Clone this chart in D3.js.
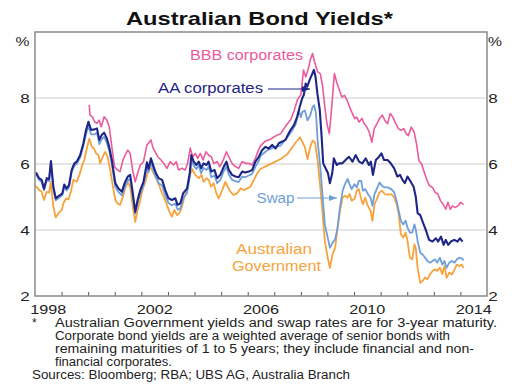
<!DOCTYPE html>
<html>
<head>
<meta charset="utf-8">
<script src="https://cdn.jsdelivr.net/npm/d3@7"></script>
<style>
  html, body { margin: 0; padding: 0; background: #fff; }
  svg { display: block; font-family: "Liberation Sans", Arial, sans-serif; }
</style>
</head>
<body>
<div id="chart"></div>
<script>
// values, [decimal year, per cent]
const aaCorporates = [
  [1998.04,5.74],[1998.15,5.57],[1998.25,5.52],[1998.34,5.25],[1998.44,5.57],[1998.53,5.54],[1998.60,6.09],
  [1998.69,5.31],[1998.78,4.96],[1998.94,5.06],[1999.03,5.11],[1999.10,5.38],[1999.19,5.26],[1999.28,5.36],
  [1999.38,5.82],[1999.48,6.02],[1999.57,6.07],[1999.70,6.27],[1999.82,6.63],[1999.92,7.03],[2000.01,7.28],
  [2000.11,7.03],[2000.24,7.05],[2000.33,7.08],[2000.42,6.73],[2000.51,6.88],[2000.60,6.95],[2000.70,6.78],
  [2000.79,6.52],[2000.89,6.12],[2001.02,5.42],[2001.14,5.26],[2001.27,5.16],[2001.37,5.42],[2001.49,5.62],
  [2001.58,5.67],[2001.67,5.16],[2001.77,4.55],[2001.86,4.91],[2001.96,5.21],[2002.08,5.46],[2002.21,6.05],
  [2002.27,5.85],[2002.36,6.17],[2002.46,5.92],[2002.55,5.72],[2002.65,5.57],[2002.78,5.52],[2002.90,5.21],
  [2003.02,4.96],[2003.15,4.91],[2003.28,4.96],[2003.36,4.76],[2003.47,4.81],[2003.57,5.11],[2003.72,5.26],
  [2003.82,5.72],[2003.88,6.27],[2003.97,6.07],[2004.07,5.97],[2004.16,6.07],[2004.25,5.87],[2004.34,6.02],
  [2004.45,5.97],[2004.53,6.07],[2004.63,5.77],[2004.75,5.82],[2004.85,5.57],[2004.97,5.67],[2005.10,5.92],
  [2005.20,6.07],[2005.29,5.82],[2005.41,5.67],[2005.54,5.62],[2005.66,5.60],[2005.79,5.77],[2005.91,5.74],
  [2006.04,5.77],[2006.17,5.82],[2006.29,6.07],[2006.42,6.22],[2006.54,6.42],[2006.67,6.52],[2006.79,6.47],
  [2006.92,6.58],[2007.05,6.47],[2007.17,6.63],[2007.30,6.68],[2007.42,6.73],[2007.51,6.88],[2007.61,7.03],
  [2007.74,7.18],[2007.86,7.43],[2007.96,7.74],[2008.05,7.99],[2008.11,8.09],[2008.18,8.44],[2008.24,8.34],
  [2008.33,8.55],[2008.41,8.70],[2008.49,8.85],[2008.55,8.65],[2008.62,8.14],[2008.71,7.64],[2008.78,6.83],
  [2008.84,6.02],[2008.93,5.87],[2009.02,5.72],[2009.09,5.42],[2009.18,5.72],[2009.24,6.17],[2009.35,5.97],
  [2009.43,6.02],[2009.56,6.02],[2009.68,6.12],[2009.81,6.22],[2009.94,6.07],[2010.06,6.27],[2010.19,6.07],
  [2010.31,6.02],[2010.44,6.17],[2010.56,5.97],[2010.63,6.07],[2010.71,5.67],[2010.82,6.12],[2010.94,6.22],
  [2011.03,6.32],[2011.13,6.12],[2011.26,6.12],[2011.38,6.02],[2011.51,5.87],[2011.63,5.62],[2011.73,5.67],
  [2011.82,5.52],[2011.91,5.42],[2012.01,5.62],[2012.13,5.46],[2012.24,5.31],[2012.32,5.01],[2012.39,4.51],
  [2012.49,4.45],[2012.58,4.25],[2012.70,4.00],[2012.82,3.70],[2012.95,3.65],[2013.08,3.75],[2013.16,3.65],
  [2013.27,3.80],[2013.37,3.55],[2013.45,3.70],[2013.54,3.55],[2013.64,3.65],[2013.77,3.70],[2013.89,3.65],
  [2013.98,3.75],[2014.08,3.65]
];

const bbbCorporates = [
  [2000.04,7.79],[2000.07,7.48],[2000.16,7.43],[2000.24,7.28],[2000.33,7.23],[2000.41,7.33],[2000.49,7.13],
  [2000.60,7.43],[2000.70,7.33],[2000.79,7.13],[2000.89,6.52],[2000.99,5.92],[2001.10,5.82],[2001.20,5.77],
  [2001.31,6.12],[2001.39,6.27],[2001.49,6.42],[2001.58,6.32],[2001.67,5.82],[2001.77,5.46],[2001.86,5.72],
  [2001.96,5.97],[2002.08,6.07],[2002.21,6.58],[2002.27,6.63],[2002.36,6.73],[2002.44,6.48],[2002.52,6.37],
  [2002.62,6.22],[2002.74,6.12],[2002.84,6.02],[2002.96,5.87],[2003.09,6.07],[2003.21,5.97],[2003.31,6.07],
  [2003.40,5.82],[2003.53,5.87],[2003.65,5.82],[2003.74,6.02],[2003.84,6.48],[2003.93,6.22],[2004.03,6.32],
  [2004.12,6.17],[2004.22,6.32],[2004.32,6.12],[2004.43,6.37],[2004.53,6.27],[2004.63,6.22],[2004.72,6.02],
  [2004.85,6.07],[2004.95,5.92],[2005.08,6.12],[2005.20,6.37],[2005.29,6.22],[2005.41,6.02],[2005.54,5.92],
  [2005.66,5.87],[2005.79,6.07],[2005.92,6.02],[2006.04,6.02],[2006.17,5.97],[2006.29,6.17],[2006.42,6.45],
  [2006.48,6.55],[2006.67,6.70],[2006.86,6.75],[2007.05,6.85],[2007.24,6.92],[2007.43,7.15],[2007.62,7.35],
  [2007.74,7.60],[2007.87,7.95],[2008.00,8.10],[2008.10,8.85],[2008.18,8.64],[2008.28,8.89],[2008.35,9.15],
  [2008.44,9.35],[2008.53,9.05],[2008.63,8.79],[2008.73,8.74],[2008.82,8.34],[2008.90,7.73],[2008.98,7.22],
  [2009.07,6.92],[2009.16,7.73],[2009.26,8.74],[2009.36,8.44],[2009.45,8.24],[2009.54,8.03],[2009.64,8.08],
  [2009.74,7.93],[2009.83,7.73],[2009.91,7.58],[2010.02,7.38],[2010.10,7.42],[2010.19,7.27],[2010.30,7.38],
  [2010.38,7.22],[2010.48,7.12],[2010.57,6.97],[2010.67,6.66],[2010.76,7.07],[2010.86,7.22],[2010.96,7.38],
  [2011.06,7.48],[2011.16,7.32],[2011.26,7.22],[2011.36,7.53],[2011.46,7.42],[2011.57,7.22],[2011.67,7.07],
  [2011.77,7.02],[2011.87,7.07],[2011.96,6.92],[2012.04,6.86],[2012.15,7.12],[2012.26,6.97],[2012.35,6.61],
  [2012.44,6.10],[2012.54,6.00],[2012.64,5.75],[2012.75,5.49],[2012.84,5.34],[2012.95,5.29],[2013.05,5.14],
  [2013.15,5.09],[2013.25,4.89],[2013.35,4.78],[2013.45,4.63],[2013.53,4.84],[2013.62,4.63],[2013.70,4.73],
  [2013.80,4.68],[2013.91,4.73],[2014.01,4.84],[2014.12,4.77]
];

const swapRates = [
  [1998.04,5.70],[1998.15,5.52],[1998.25,5.45],[1998.34,5.20],[1998.44,5.50],[1998.53,5.48],[1998.60,6.00],
  [1998.69,5.25],[1998.78,4.90],[1998.94,5.00],[1999.03,5.05],[1999.10,5.30],[1999.19,5.20],[1999.28,5.30],
  [1999.38,5.75],[1999.48,5.95],[1999.57,6.00],[1999.70,6.20],[1999.82,6.55],[1999.92,6.90],[2000.01,7.15],
  [2000.11,6.90],[2000.24,6.90],[2000.33,6.95],[2000.42,6.60],[2000.51,6.75],[2000.60,6.82],[2000.70,6.65],
  [2000.79,6.40],[2000.89,6.00],[2001.02,5.30],[2001.14,5.15],[2001.27,5.05],[2001.37,5.30],[2001.49,5.50],
  [2001.58,5.55],[2001.67,5.05],[2001.77,4.50],[2001.86,4.82],[2001.96,5.10],[2002.08,5.35],[2002.21,5.90],
  [2002.27,5.75],[2002.36,6.05],[2002.46,5.80],[2002.55,5.60],[2002.65,5.42],[2002.78,5.35],[2002.90,5.05],
  [2003.02,4.82],[2003.15,4.75],[2003.28,4.80],[2003.36,4.62],[2003.47,4.65],[2003.57,4.95],[2003.72,5.12],
  [2003.82,5.60],[2003.88,6.12],[2003.97,5.95],[2004.07,5.85],[2004.16,5.95],[2004.25,5.72],[2004.34,5.88],
  [2004.45,5.82],[2004.53,5.92],[2004.63,5.60],[2004.75,5.65],[2004.85,5.42],[2004.97,5.52],[2005.10,5.78],
  [2005.20,5.92],[2005.29,5.68],[2005.41,5.52],[2005.54,5.48],[2005.66,5.45],[2005.79,5.62],[2005.91,5.60],
  [2006.04,5.65],[2006.17,5.70],[2006.29,5.92],[2006.42,6.10],[2006.48,6.25],[2006.73,6.41],[2006.99,6.51],
  [2007.24,6.56],[2007.49,6.81],[2007.68,7.02],[2007.81,7.22],[2007.93,7.62],[2008.00,7.42],[2008.06,7.58],
  [2008.15,7.62],[2008.25,7.32],[2008.35,7.47],[2008.44,7.73],[2008.50,7.78],[2008.57,7.52],[2008.63,6.71],
  [2008.73,5.90],[2008.82,4.98],[2008.90,4.17],[2009.01,3.77],[2009.09,3.46],[2009.19,3.61],[2009.29,3.72],
  [2009.38,4.07],[2009.47,4.68],[2009.57,5.19],[2009.66,5.39],[2009.76,5.55],[2009.83,5.39],[2009.91,5.24],
  [2010.02,5.39],[2010.10,5.29],[2010.18,5.49],[2010.27,5.49],[2010.33,5.19],[2010.42,5.24],[2010.52,5.09],
  [2010.62,4.98],[2010.69,4.73],[2010.77,5.09],[2010.88,5.29],[2010.96,5.44],[2011.05,5.34],[2011.15,5.29],
  [2011.28,5.29],[2011.40,5.24],[2011.51,5.14],[2011.60,4.89],[2011.68,4.58],[2011.76,4.28],[2011.85,4.17],
  [2011.94,4.28],[2012.01,4.07],[2012.10,3.92],[2012.19,3.92],[2012.27,4.17],[2012.32,4.02],[2012.39,3.67],
  [2012.49,3.31],[2012.58,3.26],[2012.67,3.16],[2012.76,3.06],[2012.86,3.01],[2012.95,3.06],[2013.05,3.11],
  [2013.13,3.01],[2013.23,3.16],[2013.32,2.95],[2013.40,3.06],[2013.48,2.85],[2013.58,3.01],[2013.68,3.06],
  [2013.78,3.01],[2013.86,3.11],[2013.96,3.16],[2014.05,3.14],[2014.12,3.08]
];

const govtYields = [
  [1998.04,5.33],[1998.16,5.21],[1998.25,5.16],[1998.34,4.91],[1998.44,5.16],[1998.53,5.13],[1998.59,5.46],
  [1998.69,4.71],[1998.78,4.38],[1998.88,4.51],[1999.01,4.61],[1999.07,4.81],[1999.17,4.96],[1999.26,4.93],
  [1999.35,5.16],[1999.44,5.52],[1999.57,5.46],[1999.67,5.67],[1999.76,5.92],[1999.85,6.12],[1999.95,6.47],
  [2000.04,6.77],[2000.14,6.52],[2000.22,6.47],[2000.30,6.32],[2000.39,6.27],[2000.45,6.02],[2000.55,6.22],
  [2000.64,6.37],[2000.73,6.22],[2000.83,5.82],[2000.93,5.31],[2001.02,4.91],[2001.10,4.81],[2001.20,4.76],
  [2001.31,5.01],[2001.39,5.26],[2001.49,5.46],[2001.58,5.31],[2001.68,4.71],[2001.77,4.25],[2001.86,4.61],
  [2001.96,4.91],[2002.06,5.26],[2002.15,5.46],[2002.23,5.72],[2002.31,5.95],[2002.40,5.82],[2002.49,5.67],
  [2002.59,5.52],[2002.69,5.31],[2002.78,5.11],[2002.87,4.96],[2002.96,4.76],[2003.06,4.55],[2003.15,4.40],
  [2003.24,4.61],[2003.34,4.45],[2003.43,4.51],[2003.53,4.71],[2003.62,5.01],[2003.72,5.21],[2003.80,5.60],
  [2003.91,5.85],[2004.03,5.67],[2004.16,5.57],[2004.26,5.67],[2004.34,5.46],[2004.45,5.57],[2004.53,5.52],
  [2004.62,5.31],[2004.72,5.42],[2004.82,5.11],[2004.91,4.96],[2005.04,5.21],[2005.16,5.46],[2005.25,5.31],
  [2005.35,5.16],[2005.47,5.06],[2005.60,5.11],[2005.73,5.26],[2005.85,5.21],[2005.98,5.26],[2006.10,5.31],
  [2006.23,5.52],[2006.36,5.72],[2006.48,5.85],[2006.73,5.95],[2006.99,6.05],[2007.24,6.15],[2007.49,6.30],
  [2007.68,6.51],[2007.81,6.66],[2007.97,6.81],[2008.06,6.66],[2008.15,6.51],[2008.25,6.15],[2008.35,6.51],
  [2008.44,6.71],[2008.53,6.66],[2008.63,6.10],[2008.73,5.29],[2008.82,4.48],[2008.90,3.67],[2009.01,3.16],
  [2009.09,2.85],[2009.19,3.26],[2009.29,3.46],[2009.38,4.07],[2009.47,4.58],[2009.57,4.98],[2009.66,5.04],
  [2009.76,4.98],[2009.83,5.09],[2009.91,4.89],[2010.02,4.94],[2010.10,5.19],[2010.18,5.24],[2010.27,4.94],
  [2010.33,4.78],[2010.42,4.98],[2010.52,4.73],[2010.62,4.58],[2010.69,4.28],[2010.77,4.78],[2010.88,4.98],
  [2010.96,5.14],[2011.05,5.19],[2011.15,5.09],[2011.28,5.07],[2011.40,5.09],[2011.51,4.98],[2011.60,4.78],
  [2011.68,4.48],[2011.76,3.87],[2011.85,3.77],[2011.94,3.92],[2012.01,3.67],[2012.10,3.16],[2012.19,3.11],
  [2012.27,3.57],[2012.32,3.46],[2012.39,2.85],[2012.49,2.40],[2012.58,2.46],[2012.67,2.56],[2012.76,2.51],
  [2012.86,2.66],[2012.95,2.76],[2013.05,2.81],[2013.13,2.76],[2013.23,2.86],[2013.32,2.66],[2013.40,2.91],
  [2013.48,2.55],[2013.58,2.71],[2013.68,2.65],[2013.78,2.80],[2013.86,2.95],[2013.96,2.91],[2014.05,2.95],
  [2014.12,2.85]
];

const yTicks = [2, 4, 6, 8];
const yearLabels = [1998, 2002, 2006, 2010, 2014];
const footnotes = [
  "Australian Government yields and swap rates are for 3-year maturity.",
  "Corporate bond yields are a weighted average of senior bonds with",
  "remaining maturities of 1 to 5 years; they include financial and non-",
  "financial corporates."
];
const sources = "Sources: Bloomberg; RBA; UBS AG, Australia Branch";

const W = 528, H = 386;
const margin = {top: 32, right: 41, bottom: 90, left: 35};
const w = W - margin.left - margin.right;
const h = H - margin.top - margin.bottom;

const xScale = d3.scaleLinear().domain([1998, 2015]).range([0, w]);
const yScale = d3.scaleLinear().domain([2, 10]).range([h, 0]);

const svg = d3.select('#chart').append('svg')
  .attr('width', W).attr('height', H);

// text is drawn a bit wider than normal, like the reference
function label(sel, x, y, str, o) {
  const t = sel.append('text')
    .attr('x', x).attr('y', y)
    .attr('font-size', o.size)
    .attr('font-weight', o.weight || 'normal')
    .attr('fill', o.fill || '#222')
    .attr('text-anchor', o.anchor || 'start')
    .text(str);
  if (o.len) t.attr('textLength', o.len).attr('lengthAdjust', 'spacingAndGlyphs');
  if (o.dy) t.attr('dy', o.dy);
  return t;
}

label(svg, 259.5, 25, 'Australian Bond Yields*', {size: 19, weight: 'bold', anchor: 'middle', len: 267, fill: '#111'});

const g = svg.append('g')
  .attr('transform', 'translate(' + margin.left + ',' + margin.top + ')');

// grid
g.selectAll('.grid')
  .data(yTicks.filter(d => d > 2))
  .enter().append('line')
  .attr('x1', 0).attr('x2', w)
  .attr('y1', d => yScale(d)).attr('y2', d => yScale(d))
  .attr('stroke', '#cccccc').attr('stroke-width', 1);

// year ticks along the bottom
g.append('g')
  .attr('transform', 'translate(0,' + h + ')')
  .call(d3.axisBottom(xScale).tickValues(d3.range(1999, 2015)).tickSize(-4).tickFormat(''))
  .call(a => a.select('.domain').remove())
  .call(a => a.selectAll('line').attr('stroke', '#555'));

const line = d3.line().x(d => xScale(d[0])).y(d => yScale(d[1]));

const series = [
  {data: govtYields, color: '#f6a33d', width: 1.8},
  {data: swapRates, color: '#6f9fd8', width: 1.8},
  {data: bbbCorporates, color: '#ea5b9d', width: 1.6},
  {data: aaCorporates, color: '#1f2586', width: 2.1}
];
series.forEach(s => {
  g.append('path').datum(s.data)
    .attr('d', line)
    .attr('fill', 'none')
    .attr('stroke', s.color)
    .attr('stroke-width', s.width)
    .attr('stroke-linejoin', 'round');
});

// frame
g.append('rect')
  .attr('x', 0).attr('y', 0).attr('width', w).attr('height', h)
  .attr('fill', 'none').attr('stroke', '#8a8a8a').attr('stroke-width', 1.5);

// y labels both sides
yTicks.forEach(v => {
  label(svg, 25, margin.top + yScale(v), v, {size: 13.5, anchor: 'middle', dy: '0.36em', len: 9.5});
  label(svg, 493, margin.top + yScale(v), v, {size: 13.5, anchor: 'middle', dy: '0.36em', len: 9.5});
});
label(svg, 22.5, 46, '%', {size: 13.5, anchor: 'middle', len: 14});
label(svg, 495, 46, '%', {size: 13.5, anchor: 'middle', len: 14});

yearLabels.forEach(y => {
  label(svg, margin.left + xScale(y + 0.5), 314, y, {size: 13.5, anchor: 'middle', len: 36});
});

// series labels
const defs = svg.append('defs');
[['arrAA', '#1f2586'], ['arrSwap', '#6f9fd8']].forEach(([id, c]) => {
  defs.append('marker').attr('id', id)
    .attr('viewBox', '0 0 8 6').attr('refX', 8).attr('refY', 3)
    .attr('markerWidth', 8).attr('markerHeight', 6).attr('markerUnits', 'userSpaceOnUse')
    .attr('orient', 'auto')
    .append('path').attr('d', 'M0,0 L8,3 L0,6 z').attr('fill', c);
});

label(svg, 246.5, 60, 'BBB corporates', {size: 14, fill: '#ea5b9d', anchor: 'middle', len: 113});
label(svg, 210.5, 93, 'AA corporates', {size: 14, fill: '#1f2586', anchor: 'middle', len: 105});
svg.append('line').attr('x1', 268).attr('x2', 310).attr('y1', 89).attr('y2', 89)
  .attr('stroke', '#1f2586').attr('stroke-width', 1.2).attr('marker-end', 'url(#arrAA)');
label(svg, 275.5, 203, 'Swap', {size: 14, fill: '#6f9fd8', anchor: 'middle', len: 38});
svg.append('line').attr('x1', 297).attr('x2', 337).attr('y1', 198).attr('y2', 198)
  .attr('stroke', '#6f9fd8').attr('stroke-width', 1.2).attr('marker-end', 'url(#arrSwap)');
label(svg, 274, 254, 'Australian', {size: 14, fill: '#f6a33d', anchor: 'middle', len: 76});
label(svg, 276.5, 271, 'Government', {size: 14, fill: '#f6a33d', anchor: 'middle', len: 89});

// footnote
const noteLens = [442, 395, 419, 117];
label(svg, 32, 327, '*', {size: 12});
footnotes.forEach((t, i) => {
  label(svg, 55, 327 + i * 13, t, {size: 12, len: noteLens[i]});
});
label(svg, 32, 379, sources, {size: 12, len: 318});
</script>
</body>
</html>
